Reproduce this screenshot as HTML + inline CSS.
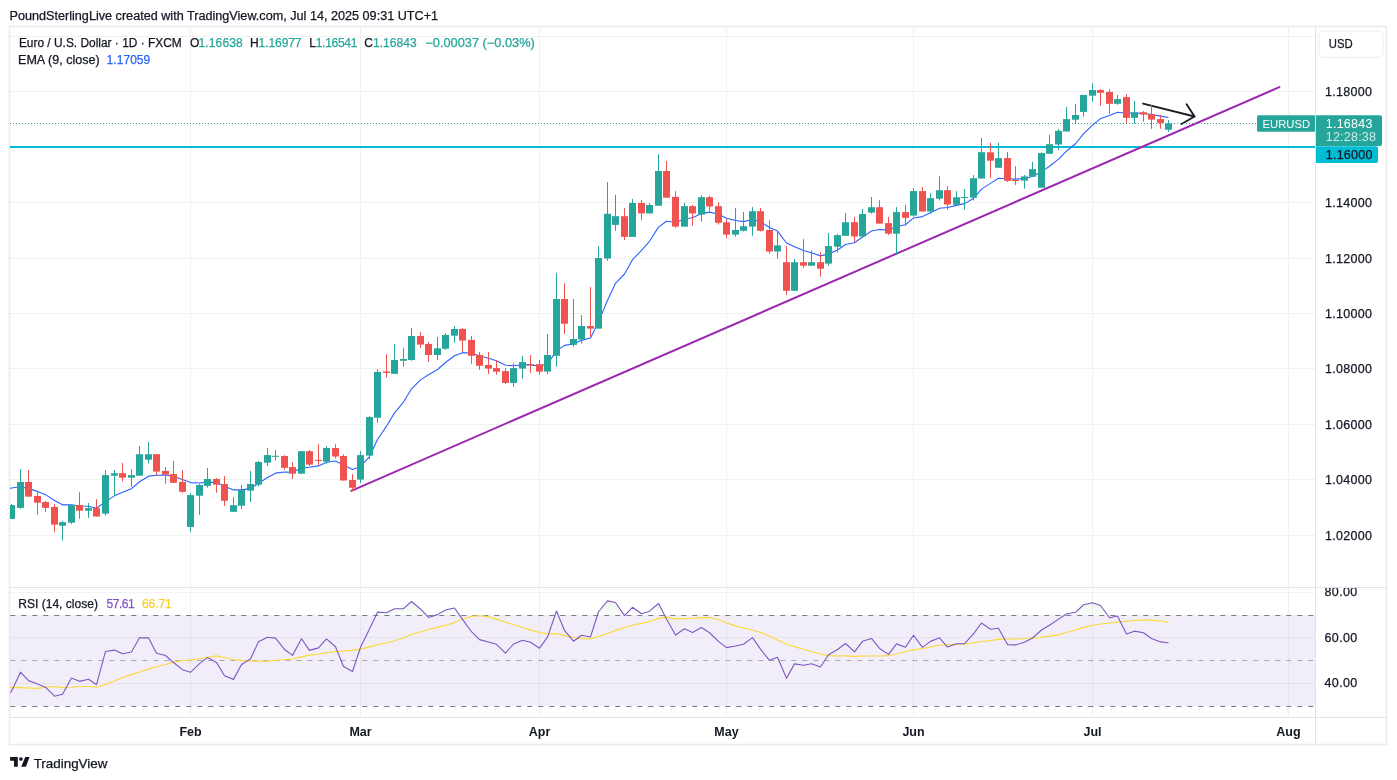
<!DOCTYPE html>
<html><head><meta charset="utf-8"><style>
html,body{margin:0;padding:0;background:#fff;width:1397px;height:780px;overflow:hidden}
#wrap{position:absolute;left:0;top:0;width:1397px;height:780px;will-change:transform}
svg{display:block}
</style></head><body><div id="wrap">
<svg width="1397" height="780" viewBox="0 0 1397 780">
<defs><clipPath id="mc"><rect x="10" y="27" width="1305" height="560"/></clipPath><clipPath id="rc"><rect x="10" y="588" width="1305" height="129"/></clipPath><clipPath id="rax"><rect x="1316" y="588" width="71" height="129"/></clipPath><linearGradient id="obg" gradientUnits="userSpaceOnUse" x1="0" y1="596" x2="0" y2="615.5"><stop offset="0" stop-color="rgb(76,175,80)" stop-opacity="0.16"/><stop offset="1" stop-color="rgb(76,175,80)" stop-opacity="0.02"/></linearGradient></defs>
<rect x="9.5" y="26.5" width="1377" height="718" fill="none" stroke="#ececec" stroke-width="1.6"/>
<rect x="10" y="36.0" width="1305" height="1" fill="#f0f2f2"/>
<rect x="10" y="91.0" width="1305" height="1" fill="#f0f2f2"/>
<rect x="10" y="146.5" width="1305" height="1" fill="#f0f2f2"/>
<rect x="10" y="202.0" width="1305" height="1" fill="#f0f2f2"/>
<rect x="10" y="258.0" width="1305" height="1" fill="#f0f2f2"/>
<rect x="10" y="313.0" width="1305" height="1" fill="#f0f2f2"/>
<rect x="10" y="368.0" width="1305" height="1" fill="#f0f2f2"/>
<rect x="10" y="424.0" width="1305" height="1" fill="#f0f2f2"/>
<rect x="10" y="479.0" width="1305" height="1" fill="#f0f2f2"/>
<rect x="10" y="535.0" width="1305" height="1" fill="#f0f2f2"/>
<rect x="190.0" y="27" width="1" height="690" fill="#f0f2f2"/>
<rect x="360.0" y="27" width="1" height="690" fill="#f0f2f2"/>
<rect x="539.0" y="27" width="1" height="690" fill="#f0f2f2"/>
<rect x="726.0" y="27" width="1" height="690" fill="#f0f2f2"/>
<rect x="913.0" y="27" width="1" height="690" fill="#f0f2f2"/>
<rect x="1092.0" y="27" width="1" height="690" fill="#f0f2f2"/>
<rect x="1288.0" y="27" width="1" height="690" fill="#f0f2f2"/>
<g clip-path="url(#rc)">
<rect x="10" y="615" width="1305" height="91" fill="rgba(126,87,194,0.1)"/>
<rect x="10" y="592.0" width="1305" height="1" fill="rgba(42,46,57,0.06)"/>
<rect x="10" y="637.0" width="1305" height="1" fill="rgba(42,46,57,0.06)"/>
<rect x="10" y="683.0" width="1305" height="1" fill="rgba(42,46,57,0.06)"/>
<line x1="10.3" x2="1315" y1="615.5" y2="615.5" stroke="#787b86" stroke-width="1" stroke-dasharray="5 6"/>
<line x1="10.3" x2="1315" y1="660.5" y2="660.5" stroke="rgba(120,123,134,0.6)" stroke-width="1" stroke-dasharray="5 6"/>
<line x1="10.3" x2="1315" y1="706.5" y2="706.5" stroke="#787b86" stroke-width="1" stroke-dasharray="5 6"/>
<polygon points="8,615.5 8.00,615.50 11.50,615.50 20.50,615.50 28.50,615.50 37.50,615.50 45.50,615.50 54.50,615.50 62.50,615.50 71.50,615.50 79.50,615.50 88.50,615.50 96.50,615.50 105.50,615.50 114.50,615.50 122.50,615.50 131.50,615.50 139.50,615.50 148.50,615.50 156.50,615.50 165.50,615.50 173.50,615.50 182.50,615.50 190.50,615.50 199.50,615.50 207.50,615.50 216.50,615.50 224.50,615.50 233.50,615.50 241.50,615.50 250.50,615.50 258.50,615.50 267.50,615.50 275.50,615.50 284.50,615.50 292.50,615.50 301.50,615.50 309.50,615.50 318.50,615.50 326.50,615.50 335.50,615.50 343.50,615.50 352.50,615.50 360.50,615.50 369.50,615.50 377.50,612.14 386.50,612.76 394.50,608.78 403.50,608.62 411.50,601.50 420.50,608.98 428.50,615.50 437.50,614.61 445.50,610.03 454.50,608.02 462.50,615.50 471.50,615.50 479.50,615.50 488.50,615.50 496.50,615.50 505.50,615.50 513.50,615.50 522.50,615.50 530.50,615.50 539.50,615.50 547.50,615.50 556.50,610.96 564.50,615.50 573.50,615.50 581.50,615.50 590.50,615.50 598.50,611.74 607.50,600.88 615.50,602.47 624.50,615.50 632.50,607.29 641.50,613.76 649.50,611.20 658.50,603.51 666.50,615.50 675.50,615.50 684.50,615.50 692.50,615.50 701.50,615.50 709.50,615.50 718.50,615.50 726.50,615.50 735.50,615.50 743.50,615.50 752.50,615.50 760.50,615.50 769.50,615.50 777.50,615.50 786.50,615.50 794.50,615.50 803.50,615.50 811.50,615.50 820.50,615.50 828.50,615.50 837.50,615.50 845.50,615.50 854.50,615.50 862.50,615.50 871.50,615.50 879.50,615.50 888.50,615.50 896.50,615.50 905.50,615.50 913.50,615.50 922.50,615.50 930.50,615.50 939.50,615.50 947.50,615.50 956.50,615.50 964.50,615.50 973.50,615.50 981.50,615.50 990.50,615.50 998.50,615.50 1007.50,615.50 1015.50,615.50 1024.50,615.50 1032.50,615.50 1041.50,615.50 1049.50,615.50 1058.50,615.50 1066.50,613.97 1075.50,612.32 1083.50,604.74 1092.50,602.81 1100.50,605.54 1109.50,615.50 1117.50,615.50 1126.50,615.50 1134.50,615.50 1143.50,615.50 1151.50,615.50 1160.50,615.50 1168.50,615.50 1168.50,615.5" fill="url(#obg)"/>
<polyline points="8.00,687.60 11.50,687.60 20.50,687.60 28.50,688.00 37.50,688.40 45.50,687.30 54.50,686.50 62.50,687.60 71.50,687.30 79.50,686.50 88.50,686.50 96.50,687.20 105.50,684.50 114.50,681.00 122.50,677.43 131.50,674.63 139.50,672.05 148.50,669.12 156.50,666.67 165.50,664.49 173.50,662.14 182.50,660.56 190.50,659.96 199.50,658.67 207.50,657.25 216.50,655.90 224.50,657.72 233.50,659.57 241.50,660.35 250.50,661.00 258.50,661.19 267.50,661.17 275.50,660.28 284.50,659.81 292.50,659.01 301.50,656.85 309.50,655.12 318.50,653.96 326.50,652.64 335.50,651.68 343.50,651.05 352.50,650.36 360.50,649.15 369.50,646.88 377.50,644.77 386.50,642.99 394.50,640.75 403.50,638.09 411.50,634.21 420.50,631.95 428.50,629.48 437.50,627.39 445.50,625.21 454.50,622.47 462.50,619.04 471.50,616.22 479.50,615.70 488.50,616.66 496.50,619.11 505.50,622.15 513.50,624.76 522.50,627.28 530.50,630.14 539.50,632.49 547.50,633.84 556.50,633.71 564.50,635.39 573.50,637.53 581.50,638.70 590.50,638.88 598.50,636.49 607.50,633.42 615.50,630.38 624.50,627.69 632.50,625.18 641.50,623.34 649.50,621.43 658.50,618.38 666.50,617.14 675.50,618.85 684.50,618.79 692.50,618.23 701.50,617.65 709.50,617.45 718.50,619.81 726.50,623.08 735.50,625.88 743.50,628.00 752.50,629.94 760.50,632.55 769.50,635.91 777.50,640.03 786.50,644.24 794.50,646.62 803.50,649.18 811.50,651.49 820.50,654.00 828.50,655.63 837.50,656.07 845.50,655.92 854.50,656.33 862.50,656.03 871.50,656.06 879.50,656.03 888.50,655.67 896.50,653.94 905.50,651.48 913.50,649.91 922.50,648.52 930.50,646.92 939.50,645.23 947.50,644.80 956.50,644.20 964.50,644.15 973.50,642.77 981.50,641.51 990.50,640.63 998.50,639.41 1007.50,638.91 1015.50,638.94 1024.50,638.77 1032.50,638.46 1041.50,637.30 1049.50,636.12 1058.50,634.85 1066.50,632.42 1075.50,630.05 1083.50,627.36 1092.50,625.25 1100.50,623.98 1109.50,623.06 1117.50,622.23 1126.50,621.35 1134.50,620.56 1143.50,619.97 1151.50,620.09 1160.50,621.06 1168.50,622.34" fill="none" stroke="#fdd835" stroke-width="1.1" stroke-linejoin="round"/>
<polyline points="8.00,694.50 11.50,691.30 20.50,672.17 28.50,680.62 37.50,683.98 45.50,687.19 54.50,696.19 62.50,694.30 71.50,678.08 79.50,681.35 88.50,679.33 96.50,684.73 105.50,651.45 114.50,650.09 122.50,653.67 131.50,652.07 139.50,637.83 148.50,637.83 156.50,653.18 165.50,655.52 173.50,662.55 182.50,669.67 190.50,672.30 199.50,663.66 207.50,657.61 216.50,662.40 224.50,675.81 233.50,679.37 241.50,664.44 250.50,659.01 258.50,641.80 267.50,637.27 275.50,638.08 284.50,649.44 292.50,655.38 301.50,638.69 309.50,650.40 318.50,647.85 326.50,638.89 335.50,646.75 343.50,666.53 352.50,671.46 360.50,647.29 369.50,628.93 377.50,612.14 386.50,612.76 394.50,608.78 403.50,608.62 411.50,601.50 420.50,608.98 428.50,617.42 437.50,614.61 445.50,610.03 454.50,608.02 462.50,619.38 471.50,631.72 479.50,639.61 488.50,641.92 496.50,644.34 505.50,653.05 513.50,644.00 522.50,640.17 530.50,642.30 539.50,648.17 547.50,637.12 556.50,610.96 564.50,630.45 573.50,641.20 581.50,635.30 590.50,636.93 598.50,611.74 607.50,600.88 615.50,602.47 624.50,615.67 632.50,607.29 641.50,613.76 649.50,611.20 658.50,603.51 666.50,619.06 675.50,635.05 684.50,628.75 692.50,632.59 701.50,627.51 709.50,632.76 718.50,641.38 726.50,647.61 735.50,645.99 743.50,644.20 752.50,637.63 760.50,649.16 769.50,660.34 777.50,657.27 786.50,678.31 794.50,663.87 803.50,665.29 811.50,663.75 820.50,666.95 828.50,654.72 837.50,649.50 845.50,643.48 854.50,651.82 862.50,641.31 871.50,638.46 879.50,648.45 888.50,654.41 896.50,643.87 905.50,647.18 913.50,635.26 922.50,647.32 930.50,641.37 939.50,637.86 947.50,647.05 956.50,643.73 964.50,643.65 973.50,633.94 981.50,622.96 990.50,629.27 998.50,628.20 1007.50,644.60 1015.50,644.85 1024.50,642.19 1032.50,638.02 1041.50,630.02 1049.50,625.25 1058.50,619.12 1066.50,613.97 1075.50,612.32 1083.50,604.74 1092.50,602.81 1100.50,605.54 1109.50,617.76 1117.50,615.92 1126.50,634.05 1134.50,631.15 1143.50,632.79 1151.50,638.43 1160.50,641.92 1168.50,642.69" fill="none" stroke="#7e57c2" stroke-width="1.1" stroke-linejoin="round"/>
</g>
<rect x="10" y="587" width="1377" height="1" fill="#e0e3eb"/>
<rect x="10" y="717" width="1377" height="1" fill="#e3e3e6"/>
<rect x="1315" y="27" width="1" height="718" fill="#e3e3e6"/>
<g clip-path="url(#mc)">
<rect x="10" y="146" width="1305" height="2" fill="#00bcd4"/>
<line x1="351.3" y1="490.8" x2="1279.4" y2="87.1" stroke="#9c27b0" stroke-width="2" stroke-linecap="round"/>
<g stroke="#1a1d24" stroke-width="1.9" fill="none" stroke-linecap="round" stroke-linejoin="round"><line x1="1143" y1="103.6" x2="1194.5" y2="116.5"/><polyline points="1186.6,104.2 1194.5,116.5 1181.6,124"/></g>
<polyline points="8.00,488.90 11.50,488.00 20.50,486.74 28.50,488.65 37.50,491.40 45.50,494.64 54.50,500.57 62.50,504.84 71.50,504.83 79.50,505.94 88.50,506.32 96.50,508.29 105.50,501.59 114.50,495.86 122.50,492.16 131.50,488.69 139.50,481.73 148.50,476.17 156.50,475.19 165.50,475.03 173.50,476.53 182.50,479.52 190.50,482.58 199.50,483.00 207.50,482.14 216.50,482.59 224.50,486.17 233.50,489.92 241.50,489.88 250.50,488.64 258.50,483.25 267.50,477.56 275.50,473.15 284.50,472.02 292.50,472.30 301.50,468.02 309.50,467.27 318.50,465.90 326.50,462.26 335.50,461.05 343.50,464.88 352.50,469.40 360.50,466.48 369.50,456.55 377.50,439.56 386.50,426.17 394.50,412.87 403.50,402.04 411.50,388.77 420.50,379.88 428.50,374.84 437.50,369.47 445.50,362.52 454.50,355.75 462.50,352.66 471.50,353.23 479.50,355.68 488.50,358.21 496.50,360.85 505.50,365.20 513.50,365.72 522.50,364.91 530.50,364.87 539.50,366.16 547.50,363.87 556.50,350.83 564.50,345.35 573.50,344.02 581.50,340.35 590.50,337.94 598.50,321.89 607.50,300.22 615.50,283.35 624.50,274.00 632.50,259.74 641.50,250.41 649.50,241.27 658.50,227.16 666.50,221.21 675.50,222.22 684.50,218.96 692.50,217.79 701.50,213.61 709.50,212.13 718.50,214.20 726.50,218.22 735.50,220.52 743.50,221.59 752.50,219.46 760.50,221.66 769.50,227.57 777.50,231.08 786.50,242.96 794.50,246.75 803.50,250.48 811.50,252.76 820.50,255.89 828.50,253.87 837.50,250.06 845.50,244.43 854.50,242.78 862.50,236.96 871.50,230.95 879.50,229.42 888.50,230.22 896.50,226.53 905.50,224.73 913.50,217.94 922.50,216.59 930.50,212.83 939.50,208.25 947.50,207.44 956.50,205.35 964.50,203.62 973.50,198.48 981.50,189.16 990.50,183.41 998.50,178.29 1007.50,178.75 1015.50,179.12 1024.50,178.52 1032.50,176.59 1041.50,171.83 1049.50,166.25 1058.50,159.10 1066.50,151.04 1075.50,143.77 1083.50,133.94 1092.50,125.09 1100.50,118.57 1109.50,115.56 1117.50,112.21 1126.50,113.26 1134.50,113.01 1143.50,113.27 1151.50,114.48 1160.50,116.10 1168.50,117.48" fill="none" stroke="#2962ff" stroke-width="1.1" stroke-linejoin="round"/>
<rect x="11.0" y="504.1" width="1" height="14.8" fill="#26a69a"/>
<rect x="8.0" y="505.1" width="7" height="13.8" fill="#26a69a"/>
<rect x="20.0" y="469.1" width="1" height="39.7" fill="#26a69a"/>
<rect x="17.0" y="482.0" width="7" height="25.9" fill="#26a69a"/>
<rect x="28.0" y="470.0" width="1" height="26.6" fill="#ef5350"/>
<rect x="25.0" y="482.0" width="7" height="14.6" fill="#ef5350"/>
<rect x="37.0" y="491.1" width="1" height="23.6" fill="#ef5350"/>
<rect x="34.0" y="495.9" width="7" height="6.8" fill="#ef5350"/>
<rect x="45.0" y="500.9" width="1" height="11.0" fill="#ef5350"/>
<rect x="42.0" y="502.0" width="7" height="5.9" fill="#ef5350"/>
<rect x="54.0" y="504.1" width="1" height="27.9" fill="#ef5350"/>
<rect x="51.0" y="506.9" width="7" height="17.7" fill="#ef5350"/>
<rect x="62.0" y="521.0" width="1" height="19.5" fill="#26a69a"/>
<rect x="59.0" y="522.2" width="7" height="3.5" fill="#26a69a"/>
<rect x="71.0" y="504.8" width="1" height="19.1" fill="#26a69a"/>
<rect x="68.0" y="505.1" width="7" height="17.6" fill="#26a69a"/>
<rect x="79.0" y="492.1" width="1" height="26.8" fill="#ef5350"/>
<rect x="76.0" y="505.1" width="7" height="5.6" fill="#ef5350"/>
<rect x="88.0" y="503.0" width="1" height="14.9" fill="#26a69a"/>
<rect x="85.0" y="508.1" width="7" height="2.6" fill="#26a69a"/>
<rect x="96.0" y="499.2" width="1" height="17.3" fill="#ef5350"/>
<rect x="93.0" y="508.1" width="7" height="8.4" fill="#ef5350"/>
<rect x="105.0" y="470.0" width="1" height="45.7" fill="#26a69a"/>
<rect x="102.0" y="475.1" width="7" height="38.5" fill="#26a69a"/>
<rect x="114.0" y="470.0" width="1" height="25.6" fill="#26a69a"/>
<rect x="111.0" y="473.2" width="7" height="2.5" fill="#26a69a"/>
<rect x="122.0" y="462.9" width="1" height="18.6" fill="#ef5350"/>
<rect x="119.0" y="473.2" width="7" height="4.5" fill="#ef5350"/>
<rect x="131.0" y="469.1" width="1" height="17.9" fill="#26a69a"/>
<rect x="128.0" y="475.1" width="7" height="2.6" fill="#26a69a"/>
<rect x="139.0" y="446.0" width="1" height="29.7" fill="#26a69a"/>
<rect x="136.0" y="454.2" width="7" height="21.5" fill="#26a69a"/>
<rect x="148.0" y="442.0" width="1" height="21.6" fill="#26a69a"/>
<rect x="145.0" y="454.2" width="7" height="5.5" fill="#26a69a"/>
<rect x="156.0" y="454.2" width="1" height="21.3" fill="#ef5350"/>
<rect x="153.0" y="454.2" width="7" height="17.4" fill="#ef5350"/>
<rect x="165.0" y="467.0" width="1" height="16.7" fill="#ef5350"/>
<rect x="162.0" y="470.9" width="7" height="3.8" fill="#ef5350"/>
<rect x="173.0" y="461.0" width="1" height="21.8" fill="#ef5350"/>
<rect x="170.0" y="474.1" width="7" height="8.7" fill="#ef5350"/>
<rect x="182.0" y="470.0" width="1" height="22.8" fill="#ef5350"/>
<rect x="179.0" y="481.9" width="7" height="9.9" fill="#ef5350"/>
<rect x="190.0" y="493.1" width="1" height="38.6" fill="#26a69a"/>
<rect x="187.0" y="495.1" width="7" height="31.8" fill="#26a69a"/>
<rect x="199.0" y="484.0" width="1" height="30.9" fill="#26a69a"/>
<rect x="196.0" y="485.0" width="7" height="10.7" fill="#26a69a"/>
<rect x="207.0" y="468.0" width="1" height="19.8" fill="#26a69a"/>
<rect x="204.0" y="479.0" width="7" height="6.9" fill="#26a69a"/>
<rect x="216.0" y="478.2" width="1" height="14.7" fill="#ef5350"/>
<rect x="213.0" y="479.0" width="7" height="5.7" fill="#ef5350"/>
<rect x="224.0" y="476.0" width="1" height="29.9" fill="#ef5350"/>
<rect x="221.0" y="484.0" width="7" height="16.8" fill="#ef5350"/>
<rect x="233.0" y="497.1" width="1" height="14.7" fill="#26a69a"/>
<rect x="230.0" y="505.2" width="7" height="6.6" fill="#26a69a"/>
<rect x="241.0" y="485.0" width="1" height="24.0" fill="#26a69a"/>
<rect x="238.0" y="490.0" width="7" height="15.7" fill="#26a69a"/>
<rect x="250.0" y="470.9" width="1" height="31.0" fill="#26a69a"/>
<rect x="247.0" y="484.0" width="7" height="6.6" fill="#26a69a"/>
<rect x="258.0" y="461.0" width="1" height="25.8" fill="#26a69a"/>
<rect x="255.0" y="462.0" width="7" height="22.7" fill="#26a69a"/>
<rect x="267.0" y="448.0" width="1" height="18.0" fill="#26a69a"/>
<rect x="264.0" y="455.1" width="7" height="7.6" fill="#26a69a"/>
<rect x="275.0" y="450.0" width="1" height="10.7" fill="#26a69a"/>
<rect x="272.0" y="455.8" width="7" height="1.0" fill="#26a69a"/>
<rect x="284.0" y="455.1" width="1" height="14.7" fill="#ef5350"/>
<rect x="281.0" y="456.0" width="7" height="11.8" fill="#ef5350"/>
<rect x="292.0" y="462.2" width="1" height="16.8" fill="#ef5350"/>
<rect x="289.0" y="467.1" width="7" height="6.6" fill="#ef5350"/>
<rect x="301.0" y="451.2" width="1" height="22.5" fill="#26a69a"/>
<rect x="298.0" y="451.2" width="7" height="22.5" fill="#26a69a"/>
<rect x="309.0" y="450.0" width="1" height="16.0" fill="#ef5350"/>
<rect x="306.0" y="451.2" width="7" height="13.4" fill="#ef5350"/>
<rect x="318.0" y="444.1" width="1" height="20.9" fill="#ef5350"/>
<rect x="315.0" y="459.9" width="7" height="1.0" fill="#ef5350"/>
<rect x="326.0" y="446.2" width="1" height="17.6" fill="#26a69a"/>
<rect x="323.0" y="448.0" width="7" height="13.7" fill="#26a69a"/>
<rect x="335.0" y="444.1" width="1" height="14.4" fill="#ef5350"/>
<rect x="332.0" y="448.0" width="7" height="8.5" fill="#ef5350"/>
<rect x="343.0" y="454.3" width="1" height="26.2" fill="#ef5350"/>
<rect x="340.0" y="456.0" width="7" height="24.5" fill="#ef5350"/>
<rect x="352.0" y="474.1" width="1" height="16.9" fill="#ef5350"/>
<rect x="349.0" y="480.0" width="7" height="7.8" fill="#ef5350"/>
<rect x="360.0" y="451.2" width="1" height="31.7" fill="#26a69a"/>
<rect x="357.0" y="455.1" width="7" height="24.5" fill="#26a69a"/>
<rect x="369.0" y="416.2" width="1" height="43.2" fill="#26a69a"/>
<rect x="366.0" y="417.1" width="7" height="38.5" fill="#26a69a"/>
<rect x="377.0" y="369.0" width="1" height="53.9" fill="#26a69a"/>
<rect x="374.0" y="371.9" width="7" height="45.8" fill="#26a69a"/>
<rect x="386.0" y="354.2" width="1" height="23.5" fill="#ef5350"/>
<rect x="383.0" y="371.5" width="7" height="1.4" fill="#ef5350"/>
<rect x="394.0" y="344.0" width="1" height="29.8" fill="#26a69a"/>
<rect x="391.0" y="360.0" width="7" height="13.8" fill="#26a69a"/>
<rect x="403.0" y="347.9" width="1" height="18.8" fill="#26a69a"/>
<rect x="400.0" y="359.0" width="7" height="1.8" fill="#26a69a"/>
<rect x="411.0" y="328.0" width="1" height="32.8" fill="#26a69a"/>
<rect x="408.0" y="336.0" width="7" height="24.0" fill="#26a69a"/>
<rect x="420.0" y="332.0" width="1" height="15.9" fill="#ef5350"/>
<rect x="417.0" y="336.0" width="7" height="8.6" fill="#ef5350"/>
<rect x="428.0" y="342.1" width="1" height="19.8" fill="#ef5350"/>
<rect x="425.0" y="344.0" width="7" height="11.0" fill="#ef5350"/>
<rect x="437.0" y="337.0" width="1" height="23.0" fill="#26a69a"/>
<rect x="434.0" y="348.3" width="7" height="6.7" fill="#26a69a"/>
<rect x="445.0" y="333.0" width="1" height="16.8" fill="#26a69a"/>
<rect x="442.0" y="335.0" width="7" height="13.8" fill="#26a69a"/>
<rect x="454.0" y="326.1" width="1" height="16.6" fill="#26a69a"/>
<rect x="451.0" y="329.0" width="7" height="6.7" fill="#26a69a"/>
<rect x="462.0" y="328.1" width="1" height="23.8" fill="#ef5350"/>
<rect x="459.0" y="329.0" width="7" height="11.6" fill="#ef5350"/>
<rect x="471.0" y="336.0" width="1" height="27.9" fill="#ef5350"/>
<rect x="468.0" y="339.9" width="7" height="15.9" fill="#ef5350"/>
<rect x="479.0" y="352.1" width="1" height="17.8" fill="#ef5350"/>
<rect x="476.0" y="355.0" width="7" height="10.8" fill="#ef5350"/>
<rect x="488.0" y="352.1" width="1" height="21.9" fill="#ef5350"/>
<rect x="485.0" y="365.0" width="7" height="3.6" fill="#ef5350"/>
<rect x="496.0" y="360.1" width="1" height="14.7" fill="#ef5350"/>
<rect x="493.0" y="368.1" width="7" height="3.6" fill="#ef5350"/>
<rect x="505.0" y="368.1" width="1" height="15.8" fill="#ef5350"/>
<rect x="502.0" y="371.1" width="7" height="11.8" fill="#ef5350"/>
<rect x="513.0" y="363.0" width="1" height="23.8" fill="#26a69a"/>
<rect x="510.0" y="368.1" width="7" height="14.8" fill="#26a69a"/>
<rect x="522.0" y="356.0" width="1" height="22.8" fill="#26a69a"/>
<rect x="519.0" y="362.0" width="7" height="6.6" fill="#26a69a"/>
<rect x="530.0" y="355.0" width="1" height="18.0" fill="#ef5350"/>
<rect x="527.0" y="364.2" width="7" height="1.0" fill="#ef5350"/>
<rect x="539.0" y="359.9" width="1" height="14.8" fill="#ef5350"/>
<rect x="536.0" y="364.2" width="7" height="7.4" fill="#ef5350"/>
<rect x="547.0" y="334.0" width="1" height="40.0" fill="#26a69a"/>
<rect x="544.0" y="355.0" width="7" height="16.6" fill="#26a69a"/>
<rect x="556.0" y="272.9" width="1" height="93.9" fill="#26a69a"/>
<rect x="553.0" y="299.0" width="7" height="56.8" fill="#26a69a"/>
<rect x="564.0" y="283.1" width="1" height="50.7" fill="#ef5350"/>
<rect x="561.0" y="299.0" width="7" height="24.7" fill="#ef5350"/>
<rect x="573.0" y="299.0" width="1" height="47.7" fill="#26a69a"/>
<rect x="570.0" y="339.0" width="7" height="5.8" fill="#26a69a"/>
<rect x="581.0" y="315.1" width="1" height="28.5" fill="#26a69a"/>
<rect x="578.0" y="326.0" width="7" height="13.6" fill="#26a69a"/>
<rect x="590.0" y="287.1" width="1" height="49.6" fill="#ef5350"/>
<rect x="587.0" y="326.0" width="7" height="2.6" fill="#ef5350"/>
<rect x="598.0" y="246.2" width="1" height="82.4" fill="#26a69a"/>
<rect x="595.0" y="258.0" width="7" height="70.6" fill="#26a69a"/>
<rect x="607.0" y="182.0" width="1" height="78.8" fill="#26a69a"/>
<rect x="604.0" y="213.8" width="7" height="44.7" fill="#26a69a"/>
<rect x="615.0" y="194.9" width="1" height="35.9" fill="#26a69a"/>
<rect x="612.0" y="216.2" width="7" height="8.7" fill="#26a69a"/>
<rect x="624.0" y="208.2" width="1" height="31.8" fill="#ef5350"/>
<rect x="621.0" y="216.2" width="7" height="20.7" fill="#ef5350"/>
<rect x="632.0" y="198.9" width="1" height="38.0" fill="#26a69a"/>
<rect x="629.0" y="203.0" width="7" height="33.9" fill="#26a69a"/>
<rect x="641.0" y="200.0" width="1" height="20.0" fill="#ef5350"/>
<rect x="638.0" y="203.0" width="7" height="10.4" fill="#ef5350"/>
<rect x="649.0" y="203.0" width="1" height="10.4" fill="#26a69a"/>
<rect x="646.0" y="205.0" width="7" height="8.4" fill="#26a69a"/>
<rect x="658.0" y="154.3" width="1" height="51.4" fill="#26a69a"/>
<rect x="655.0" y="171.0" width="7" height="34.7" fill="#26a69a"/>
<rect x="666.0" y="161.0" width="1" height="36.7" fill="#ef5350"/>
<rect x="663.0" y="171.0" width="7" height="26.7" fill="#ef5350"/>
<rect x="675.0" y="191.2" width="1" height="36.5" fill="#ef5350"/>
<rect x="672.0" y="196.9" width="7" height="29.7" fill="#ef5350"/>
<rect x="684.0" y="203.0" width="1" height="23.6" fill="#26a69a"/>
<rect x="681.0" y="206.2" width="7" height="20.4" fill="#26a69a"/>
<rect x="692.0" y="205.0" width="1" height="20.7" fill="#ef5350"/>
<rect x="689.0" y="206.2" width="7" height="7.2" fill="#ef5350"/>
<rect x="701.0" y="195.1" width="1" height="26.4" fill="#26a69a"/>
<rect x="698.0" y="197.2" width="7" height="17.4" fill="#26a69a"/>
<rect x="709.0" y="195.8" width="1" height="15.0" fill="#ef5350"/>
<rect x="706.0" y="197.2" width="7" height="9.3" fill="#ef5350"/>
<rect x="718.0" y="202.3" width="1" height="22.3" fill="#ef5350"/>
<rect x="715.0" y="206.2" width="7" height="16.6" fill="#ef5350"/>
<rect x="726.0" y="219.2" width="1" height="19.3" fill="#ef5350"/>
<rect x="723.0" y="222.3" width="7" height="12.3" fill="#ef5350"/>
<rect x="735.0" y="208.0" width="1" height="28.6" fill="#26a69a"/>
<rect x="732.0" y="230.0" width="7" height="4.6" fill="#26a69a"/>
<rect x="743.0" y="212.0" width="1" height="19.5" fill="#26a69a"/>
<rect x="740.0" y="226.2" width="7" height="4.6" fill="#26a69a"/>
<rect x="752.0" y="207.2" width="1" height="28.5" fill="#26a69a"/>
<rect x="749.0" y="211.2" width="7" height="15.4" fill="#26a69a"/>
<rect x="760.0" y="208.0" width="1" height="23.5" fill="#ef5350"/>
<rect x="757.0" y="211.2" width="7" height="19.6" fill="#ef5350"/>
<rect x="769.0" y="220.3" width="1" height="33.5" fill="#ef5350"/>
<rect x="766.0" y="230.0" width="7" height="21.5" fill="#ef5350"/>
<rect x="777.0" y="231.5" width="1" height="27.0" fill="#26a69a"/>
<rect x="774.0" y="245.4" width="7" height="6.1" fill="#26a69a"/>
<rect x="786.0" y="246.1" width="1" height="48.9" fill="#ef5350"/>
<rect x="783.0" y="262.2" width="7" height="28.6" fill="#ef5350"/>
<rect x="794.0" y="259.1" width="1" height="31.7" fill="#26a69a"/>
<rect x="791.0" y="262.2" width="7" height="28.6" fill="#26a69a"/>
<rect x="803.0" y="239.1" width="1" height="28.8" fill="#ef5350"/>
<rect x="800.0" y="262.2" width="7" height="3.5" fill="#ef5350"/>
<rect x="811.0" y="250.4" width="1" height="15.3" fill="#26a69a"/>
<rect x="808.0" y="262.2" width="7" height="3.5" fill="#26a69a"/>
<rect x="820.0" y="252.1" width="1" height="24.6" fill="#ef5350"/>
<rect x="817.0" y="262.2" width="7" height="6.5" fill="#ef5350"/>
<rect x="828.0" y="233.0" width="1" height="32.7" fill="#26a69a"/>
<rect x="825.0" y="246.1" width="7" height="17.5" fill="#26a69a"/>
<rect x="837.0" y="234.0" width="1" height="18.8" fill="#26a69a"/>
<rect x="834.0" y="235.1" width="7" height="11.6" fill="#26a69a"/>
<rect x="845.0" y="213.0" width="1" height="22.8" fill="#26a69a"/>
<rect x="842.0" y="222.2" width="7" height="13.6" fill="#26a69a"/>
<rect x="854.0" y="216.8" width="1" height="25.4" fill="#ef5350"/>
<rect x="851.0" y="222.2" width="7" height="14.3" fill="#ef5350"/>
<rect x="862.0" y="209.0" width="1" height="27.5" fill="#26a69a"/>
<rect x="859.0" y="214.0" width="7" height="22.5" fill="#26a69a"/>
<rect x="871.0" y="197.0" width="1" height="16.7" fill="#26a69a"/>
<rect x="868.0" y="207.2" width="7" height="5.4" fill="#26a69a"/>
<rect x="879.0" y="200.2" width="1" height="23.4" fill="#ef5350"/>
<rect x="876.0" y="207.2" width="7" height="16.4" fill="#ef5350"/>
<rect x="888.0" y="216.9" width="1" height="18.1" fill="#ef5350"/>
<rect x="885.0" y="223.1" width="7" height="10.6" fill="#ef5350"/>
<rect x="896.0" y="207.1" width="1" height="47.5" fill="#26a69a"/>
<rect x="893.0" y="212.1" width="7" height="21.6" fill="#26a69a"/>
<rect x="905.0" y="205.0" width="1" height="20.8" fill="#ef5350"/>
<rect x="902.0" y="212.1" width="7" height="5.7" fill="#ef5350"/>
<rect x="913.0" y="188.1" width="1" height="28.6" fill="#26a69a"/>
<rect x="910.0" y="191.1" width="7" height="24.5" fill="#26a69a"/>
<rect x="922.0" y="187.1" width="1" height="24.4" fill="#ef5350"/>
<rect x="919.0" y="191.1" width="7" height="20.4" fill="#ef5350"/>
<rect x="930.0" y="193.2" width="1" height="20.3" fill="#26a69a"/>
<rect x="927.0" y="198.1" width="7" height="13.4" fill="#26a69a"/>
<rect x="939.0" y="176.3" width="1" height="24.2" fill="#26a69a"/>
<rect x="936.0" y="190.2" width="7" height="8.5" fill="#26a69a"/>
<rect x="947.0" y="186.1" width="1" height="23.6" fill="#ef5350"/>
<rect x="944.0" y="190.2" width="7" height="14.3" fill="#ef5350"/>
<rect x="956.0" y="191.1" width="1" height="13.7" fill="#26a69a"/>
<rect x="953.0" y="197.3" width="7" height="7.5" fill="#26a69a"/>
<rect x="964.0" y="189.0" width="1" height="20.7" fill="#26a69a"/>
<rect x="961.0" y="197.0" width="7" height="1.0" fill="#26a69a"/>
<rect x="973.0" y="175.1" width="1" height="25.4" fill="#26a69a"/>
<rect x="970.0" y="178.2" width="7" height="19.5" fill="#26a69a"/>
<rect x="981.0" y="138.0" width="1" height="40.5" fill="#26a69a"/>
<rect x="978.0" y="152.2" width="7" height="26.3" fill="#26a69a"/>
<rect x="990.0" y="142.8" width="1" height="35.0" fill="#ef5350"/>
<rect x="987.0" y="152.3" width="7" height="8.4" fill="#ef5350"/>
<rect x="998.0" y="142.8" width="1" height="25.0" fill="#26a69a"/>
<rect x="995.0" y="158.1" width="7" height="9.7" fill="#26a69a"/>
<rect x="1007.0" y="152.0" width="1" height="30.0" fill="#ef5350"/>
<rect x="1004.0" y="158.1" width="7" height="22.8" fill="#ef5350"/>
<rect x="1015.0" y="166.1" width="1" height="18.8" fill="#ef5350"/>
<rect x="1012.0" y="180.0" width="7" height="1.0" fill="#ef5350"/>
<rect x="1024.0" y="175.0" width="1" height="13.7" fill="#26a69a"/>
<rect x="1021.0" y="176.4" width="7" height="4.2" fill="#26a69a"/>
<rect x="1032.0" y="161.9" width="1" height="14.8" fill="#26a69a"/>
<rect x="1029.0" y="169.2" width="7" height="7.5" fill="#26a69a"/>
<rect x="1041.0" y="152.3" width="1" height="35.4" fill="#26a69a"/>
<rect x="1038.0" y="153.1" width="7" height="34.6" fill="#26a69a"/>
<rect x="1049.0" y="134.8" width="1" height="19.0" fill="#26a69a"/>
<rect x="1046.0" y="144.2" width="7" height="9.6" fill="#26a69a"/>
<rect x="1058.0" y="129.1" width="1" height="20.8" fill="#26a69a"/>
<rect x="1055.0" y="130.8" width="7" height="13.7" fill="#26a69a"/>
<rect x="1066.0" y="106.9" width="1" height="24.6" fill="#26a69a"/>
<rect x="1063.0" y="119.1" width="7" height="12.4" fill="#26a69a"/>
<rect x="1075.0" y="104.0" width="1" height="19.7" fill="#26a69a"/>
<rect x="1072.0" y="115.0" width="7" height="4.7" fill="#26a69a"/>
<rect x="1083.0" y="94.9" width="1" height="21.8" fill="#26a69a"/>
<rect x="1080.0" y="94.9" width="7" height="17.0" fill="#26a69a"/>
<rect x="1092.0" y="83.1" width="1" height="18.5" fill="#26a69a"/>
<rect x="1089.0" y="90.0" width="7" height="5.7" fill="#26a69a"/>
<rect x="1100.0" y="89.2" width="1" height="16.5" fill="#ef5350"/>
<rect x="1097.0" y="90.0" width="7" height="2.8" fill="#ef5350"/>
<rect x="1109.0" y="89.2" width="1" height="24.6" fill="#ef5350"/>
<rect x="1106.0" y="92.0" width="7" height="11.8" fill="#ef5350"/>
<rect x="1117.0" y="94.9" width="1" height="9.9" fill="#26a69a"/>
<rect x="1114.0" y="99.1" width="7" height="4.7" fill="#26a69a"/>
<rect x="1126.0" y="94.1" width="1" height="28.9" fill="#ef5350"/>
<rect x="1123.0" y="97.1" width="7" height="20.7" fill="#ef5350"/>
<rect x="1134.0" y="101.0" width="1" height="22.7" fill="#26a69a"/>
<rect x="1131.0" y="112.3" width="7" height="5.5" fill="#26a69a"/>
<rect x="1143.0" y="111.1" width="1" height="10.6" fill="#ef5350"/>
<rect x="1140.0" y="112.3" width="7" height="2.3" fill="#ef5350"/>
<rect x="1151.0" y="105.2" width="1" height="23.6" fill="#ef5350"/>
<rect x="1148.0" y="114.2" width="7" height="5.4" fill="#ef5350"/>
<rect x="1160.0" y="115.0" width="1" height="13.8" fill="#ef5350"/>
<rect x="1157.0" y="119.1" width="7" height="3.8" fill="#ef5350"/>
<rect x="1168.0" y="120.1" width="1" height="11.8" fill="#26a69a"/>
<rect x="1165.0" y="123.3" width="7" height="6.4" fill="#26a69a"/>
<line x1="10" x2="1257" y1="123.5" y2="123.5" stroke="#26a69a" stroke-width="1" stroke-dasharray="1 2"/>
</g>
<path d="M1258.5,115.2 H1315 V131.8 H1258.5 a1.5,1.5 0 0 1 -1.5,-1.5 V116.7 a1.5,1.5 0 0 1 1.5,-1.5 Z" fill="#26a69a"/>
<path d="M1316,115.2 H1380 a2,2 0 0 1 2,2 V143.9 a2,2 0 0 1 -2,2 H1316 Z" fill="#26a69a"/>
<path d="M1316,146.3 H1376 a2,2 0 0 1 2,2 V160.9 a2,2 0 0 1 -2,2 H1316 Z" fill="#00bcd4"/>
<rect x="1319" y="31" width="64" height="26.4" rx="4.5" fill="#fff" stroke="#efefef" stroke-width="1.2"/>
<g fill="#131722"><path d="M10.1,757 H17.8 V766.7 H14 V760.7 H10.1 Z"/><circle cx="20.9" cy="759" r="1.85"/><path d="M25.3,757 H29.6 L25.9,766.7 H21.2 Z"/></g>
<text x="9.5" y="20" font-family="'Liberation Sans', sans-serif" font-size="12" fill="#131722" stroke="#131722" stroke-width="0.25" font-weight="normal" text-anchor="start" textLength="428.6" lengthAdjust="spacingAndGlyphs">PoundSterlingLive created with TradingView.com, Jul 14, 2025 09:31 UTC+1</text>
<text x="18.9" y="46.7" font-family="'Liberation Sans', sans-serif" font-size="12" fill="#131722" stroke="#131722" stroke-width="0.25" font-weight="normal" text-anchor="start" textLength="162.8" lengthAdjust="spacingAndGlyphs">Euro / U.S. Dollar · 1D · FXCM</text>
<text x="189.9" y="46.7" font-family="'Liberation Sans', sans-serif" font-size="12" fill="#131722" stroke="#131722" stroke-width="0.25" font-weight="normal" text-anchor="start">O</text>
<text x="198.5" y="46.7" font-family="'Liberation Sans', sans-serif" font-size="12" fill="#26a69a" stroke="#26a69a" stroke-width="0.25" font-weight="normal" text-anchor="start" textLength="44.2" lengthAdjust="spacing">1.16638</text>
<text x="250" y="46.7" font-family="'Liberation Sans', sans-serif" font-size="12" fill="#131722" stroke="#131722" stroke-width="0.25" font-weight="normal" text-anchor="start">H</text>
<text x="258.6" y="46.7" font-family="'Liberation Sans', sans-serif" font-size="12" fill="#26a69a" stroke="#26a69a" stroke-width="0.25" font-weight="normal" text-anchor="start" textLength="42.9" lengthAdjust="spacing">1.16977</text>
<text x="309.3" y="46.7" font-family="'Liberation Sans', sans-serif" font-size="12" fill="#131722" stroke="#131722" stroke-width="0.25" font-weight="normal" text-anchor="start">L</text>
<text x="315.7" y="46.7" font-family="'Liberation Sans', sans-serif" font-size="12" fill="#26a69a" stroke="#26a69a" stroke-width="0.25" font-weight="normal" text-anchor="start" textLength="41.7" lengthAdjust="spacing">1.16541</text>
<text x="364.3" y="46.7" font-family="'Liberation Sans', sans-serif" font-size="12" fill="#131722" stroke="#131722" stroke-width="0.25" font-weight="normal" text-anchor="start">C</text>
<text x="372.9" y="46.7" font-family="'Liberation Sans', sans-serif" font-size="12" fill="#26a69a" stroke="#26a69a" stroke-width="0.25" font-weight="normal" text-anchor="start" textLength="43.8" lengthAdjust="spacing">1.16843</text>
<text x="425.3" y="46.7" font-family="'Liberation Sans', sans-serif" font-size="12" fill="#26a69a" stroke="#26a69a" stroke-width="0.25" font-weight="normal" text-anchor="start" textLength="109.5" lengthAdjust="spacingAndGlyphs">−0.00037 (−0.03%)</text>
<text x="18" y="63.6" font-family="'Liberation Sans', sans-serif" font-size="12" fill="#131722" stroke="#131722" stroke-width="0.25" font-weight="normal" text-anchor="start" textLength="81.7" lengthAdjust="spacingAndGlyphs">EMA (9, close)</text>
<text x="106.5" y="63.6" font-family="'Liberation Sans', sans-serif" font-size="12" fill="#2962ff" stroke="#2962ff" stroke-width="0.25" font-weight="normal" text-anchor="start" textLength="43.8" lengthAdjust="spacing">1.17059</text>
<text x="18.2" y="607.6" font-family="'Liberation Sans', sans-serif" font-size="12" fill="#131722" stroke="#131722" stroke-width="0.25" font-weight="normal" text-anchor="start" textLength="79.8" lengthAdjust="spacingAndGlyphs">RSI (14, close)</text>
<text x="106.4" y="607.6" font-family="'Liberation Sans', sans-serif" font-size="12" fill="#7e57c2" stroke="#7e57c2" stroke-width="0.25" font-weight="normal" text-anchor="start" textLength="28.4" lengthAdjust="spacing">57.61</text>
<text x="141.9" y="607.6" font-family="'Liberation Sans', sans-serif" font-size="12" fill="#f9cf2f" stroke="#f9cf2f" stroke-width="0.25" font-weight="normal" text-anchor="start" textLength="29.9" lengthAdjust="spacing">66.71</text>
<text x="1324.9" y="95.8" font-family="'Liberation Sans', sans-serif" font-size="12.5" fill="#131722" stroke="#131722" stroke-width="0.25" font-weight="normal" text-anchor="start" textLength="47" lengthAdjust="spacing">1.18000</text>
<text x="1324.9" y="206.8" font-family="'Liberation Sans', sans-serif" font-size="12.5" fill="#131722" stroke="#131722" stroke-width="0.25" font-weight="normal" text-anchor="start" textLength="47" lengthAdjust="spacing">1.14000</text>
<text x="1324.9" y="262.8" font-family="'Liberation Sans', sans-serif" font-size="12.5" fill="#131722" stroke="#131722" stroke-width="0.25" font-weight="normal" text-anchor="start" textLength="47" lengthAdjust="spacing">1.12000</text>
<text x="1324.9" y="317.8" font-family="'Liberation Sans', sans-serif" font-size="12.5" fill="#131722" stroke="#131722" stroke-width="0.25" font-weight="normal" text-anchor="start" textLength="47" lengthAdjust="spacing">1.10000</text>
<text x="1324.9" y="372.8" font-family="'Liberation Sans', sans-serif" font-size="12.5" fill="#131722" stroke="#131722" stroke-width="0.25" font-weight="normal" text-anchor="start" textLength="47" lengthAdjust="spacing">1.08000</text>
<text x="1324.9" y="428.8" font-family="'Liberation Sans', sans-serif" font-size="12.5" fill="#131722" stroke="#131722" stroke-width="0.25" font-weight="normal" text-anchor="start" textLength="47" lengthAdjust="spacing">1.06000</text>
<text x="1324.9" y="483.8" font-family="'Liberation Sans', sans-serif" font-size="12.5" fill="#131722" stroke="#131722" stroke-width="0.25" font-weight="normal" text-anchor="start" textLength="47" lengthAdjust="spacing">1.04000</text>
<text x="1324.9" y="539.8" font-family="'Liberation Sans', sans-serif" font-size="12.5" fill="#131722" stroke="#131722" stroke-width="0.25" font-weight="normal" text-anchor="start" textLength="47" lengthAdjust="spacing">1.02000</text>
<text x="1325.7" y="127.5" font-family="'Liberation Sans', sans-serif" font-size="12.5" fill="#ffffff" stroke="#ffffff" stroke-width="0" font-weight="normal" text-anchor="start" textLength="46.7" lengthAdjust="spacing">1.16843</text>
<text x="1325.7" y="141.4" font-family="'Liberation Sans', sans-serif" font-size="12.5" fill="rgba(255,255,255,0.78)" stroke="rgba(255,255,255,0.78)" stroke-width="0" font-weight="normal" text-anchor="start" textLength="50.3" lengthAdjust="spacing">12:28:38</text>
<text x="1325.7" y="158.8" font-family="'Liberation Sans', sans-serif" font-size="12.5" fill="#131722" stroke="#131722" stroke-width="0.25" font-weight="normal" text-anchor="start" textLength="46.7" lengthAdjust="spacing">1.16000</text>
<text x="1262.5" y="127.5" font-family="'Liberation Sans', sans-serif" font-size="11.5" fill="#ffffff" stroke="#ffffff" stroke-width="0" font-weight="normal" text-anchor="start" textLength="47.6" lengthAdjust="spacingAndGlyphs">EURUSD</text>
<text x="1328.8" y="47.9" font-family="'Liberation Sans', sans-serif" font-size="12.5" fill="#131722" stroke="#131722" stroke-width="0.25" font-weight="normal" text-anchor="start" textLength="23.9" lengthAdjust="spacingAndGlyphs">USD</text>
<text x="1324.5" y="596.2" font-family="'Liberation Sans', sans-serif" font-size="12.5" fill="#131722" stroke="#131722" stroke-width="0.25" font-weight="normal" text-anchor="start" textLength="32.8" lengthAdjust="spacing" clip-path="url(#rax)">80.00</text>
<text x="1324.5" y="641.8" font-family="'Liberation Sans', sans-serif" font-size="12.5" fill="#131722" stroke="#131722" stroke-width="0.25" font-weight="normal" text-anchor="start" textLength="32.8" lengthAdjust="spacing" clip-path="url(#rax)">60.00</text>
<text x="1324.5" y="687.3" font-family="'Liberation Sans', sans-serif" font-size="12.5" fill="#131722" stroke="#131722" stroke-width="0.25" font-weight="normal" text-anchor="start" textLength="32.8" lengthAdjust="spacing" clip-path="url(#rax)">40.00</text>
<text x="190.5" y="736" font-family="'Liberation Sans', sans-serif" font-size="12.5" fill="#131722" stroke="#131722" stroke-width="0" font-weight="bold" text-anchor="middle">Feb</text>
<text x="360.5" y="736" font-family="'Liberation Sans', sans-serif" font-size="12.5" fill="#131722" stroke="#131722" stroke-width="0" font-weight="bold" text-anchor="middle">Mar</text>
<text x="539.5" y="736" font-family="'Liberation Sans', sans-serif" font-size="12.5" fill="#131722" stroke="#131722" stroke-width="0" font-weight="bold" text-anchor="middle">Apr</text>
<text x="726.5" y="736" font-family="'Liberation Sans', sans-serif" font-size="12.5" fill="#131722" stroke="#131722" stroke-width="0" font-weight="bold" text-anchor="middle">May</text>
<text x="913.5" y="736" font-family="'Liberation Sans', sans-serif" font-size="12.5" fill="#131722" stroke="#131722" stroke-width="0" font-weight="bold" text-anchor="middle">Jun</text>
<text x="1092.5" y="736" font-family="'Liberation Sans', sans-serif" font-size="12.5" fill="#131722" stroke="#131722" stroke-width="0" font-weight="bold" text-anchor="middle">Jul</text>
<text x="1288.5" y="736" font-family="'Liberation Sans', sans-serif" font-size="12.5" fill="#131722" stroke="#131722" stroke-width="0" font-weight="bold" text-anchor="middle">Aug</text>
<text x="33.7" y="767.8" font-family="'Liberation Sans', sans-serif" font-size="13" fill="#131722" stroke="#131722" stroke-width="0.25" font-weight="normal" text-anchor="start" textLength="73.7" lengthAdjust="spacingAndGlyphs">TradingView</text>
</svg>
</div></body></html>
